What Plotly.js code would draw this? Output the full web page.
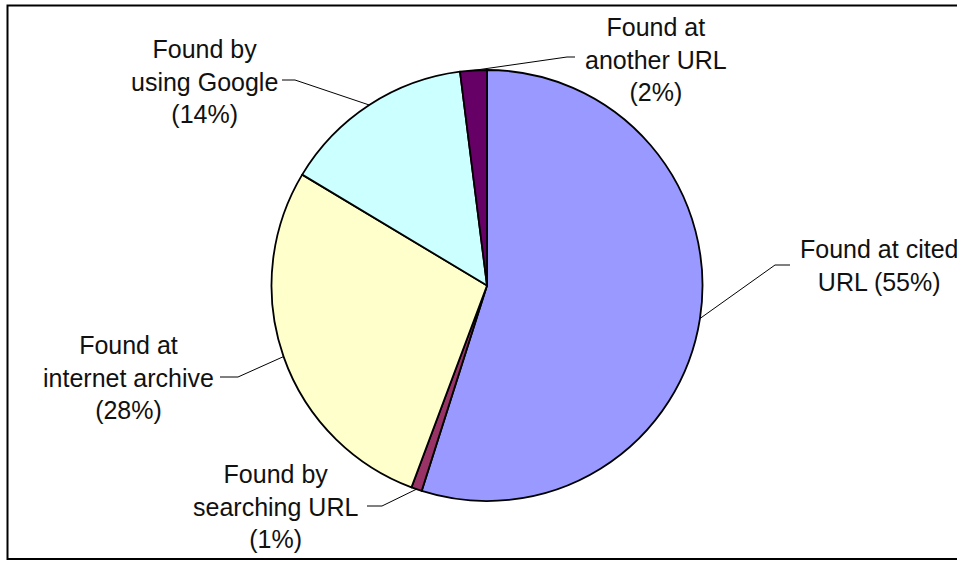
<!DOCTYPE html>
<html>
<head>
<meta charset="utf-8">
<script src="https://cdn.plot.ly/plotly-3.0.1.min.js"></script>
<style>
  html, body { margin: 0; padding: 0; background: #ffffff; }
  #chart { width: 957px; height: 561px; }
</style>
</head>
<body>
<div id="chart"></div>
<script>
// ---- data ----
const categories = ['Found at cited URL', 'Found by searching URL', 'Found at internet archive', 'Found by using Google', 'Found at another URL'];
const values = [54.9, 0.8, 27.9, 14.4, 2.0];
const labelTexts = ['Found at cited<br>URL (55%)', 'Found by<br>searching URL<br>(1%)', 'Found at<br>internet archive<br>(28%)', 'Found by<br>using Google<br>(14%)', 'Found at<br>another URL<br>(2%)'];
const colors = ['#9999FF', '#993366', '#FFFFCC', '#CCFFFF', '#660066'];

// ---- layout geometry (pixels) ----
const W = 957, H = 561;
const MT = 70, MB = 60;
const PH = H - MT - MB;            // plot height -> pie diameter
const PIE_CX = 487;
const domainX0 = 2 * PIE_CX / W - 1;
const R = PH / 2;
const PIE_CY = MT + R;

// label placement (pixels): text centre, elbow point, line end near text
const labelCenter = [[879, 265], [275, 506], [128, 377], [204, 81], [656, 59]];
const labelElbow  = [[775, 265], [382, 506], [238, 377], [295, 80], [567, 57]];
const labelEnd    = [[790, 265], [367, 506], [220, 377], [282, 80], [575, 57]];

const xp = x => x / W;
const yp = y => (MT + PH - y) / PH;

// compute slice mid-points on the rim from the data (clockwise from 12 o'clock)
const total = values.reduce((a, b) => a + b, 0);
let cum = 0;
const rimPts = values.map(v => {
  const mid = (cum + v / 2) / total * 2 * Math.PI;
  cum += v;
  return [PIE_CX + R * Math.sin(mid), PIE_CY - R * Math.cos(mid)];
});

const font = { family: 'Liberation Sans, Arial, sans-serif', size: 25, color: '#111111' };

const annotations = labelTexts.map((t, i) => ({
  xref: 'paper', yref: 'paper',
  x: xp(labelCenter[i][0]), y: yp(labelCenter[i][1]),
  xanchor: 'center', yanchor: 'middle', align: 'center',
  text: t, showarrow: false, font: font
}));

const shapes = rimPts.map((p, i) => ({
  type: 'path', xref: 'paper', yref: 'paper',
  path: 'M ' + xp(p[0]) + ' ' + yp(p[1]) +
        ' L ' + xp(labelElbow[i][0]) + ' ' + yp(labelElbow[i][1]) +
        ' L ' + xp(labelEnd[i][0]) + ' ' + yp(labelEnd[i][1]),
  line: { color: '#000000', width: 1 }
}));

// outer chart frame
shapes.push({
  type: 'rect', xref: 'paper', yref: 'paper',
  x0: xp(7.5), x1: xp(975), y0: yp(559), y1: yp(5.5),
  line: { color: '#000000', width: 2 }, fillcolor: 'rgba(0,0,0,0)'
});

const trace = {
  type: 'pie',
  labels: categories,
  values: values,
  sort: false,
  direction: 'clockwise',
  rotation: 0,
  textinfo: 'none',
  hoverinfo: 'none',
  marker: { colors: colors, line: { color: '#000000', width: 1.8 } },
  domain: { x: [domainX0, 1], y: [0, 1] },
  showlegend: false
};

const layout = {
  width: W, height: H,
  margin: { l: 0, r: 0, t: MT, b: MB, pad: 0 },
  paper_bgcolor: '#ffffff',
  plot_bgcolor: '#ffffff',
  showlegend: false,
  annotations: annotations,
  shapes: shapes,
  font: font
};

Plotly.newPlot('chart', [trace], layout, { displayModeBar: false, staticPlot: true });
</script>
</body>
</html>
